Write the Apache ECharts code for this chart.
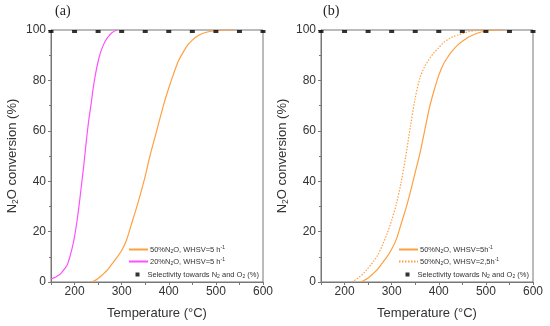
<!DOCTYPE html>
<html>
<head>
<meta charset="utf-8">
<script src="https://cdn.jsdelivr.net/npm/echarts@6/dist/echarts.min.js"></script>
<style>html,body{margin:0;padding:0;background:#fff}#c{width:550px;height:326px}</style>
</head>
<body>
<div id="c"></div>
<script>
// ---- data ----
const orangeA = [[235,0],[240,0.3],[250,1.4],[260,3],[270,4.8],[280,7.3],[290,9.8],[300,12.5],[310,16.5],[320,22.5],[330,28.5],[340,35],[350,42],[360,50],[370,57],[380,64],[390,71],[400,77],[410,82.5],[420,87.5],[430,91],[440,94],[450,96],[460,97.5],[470,98.5],[480,99.1],[490,99.5],[500,99.8],[520,100],[540,100]];
const pinkA = [[150,1.2],[160,2],[170,3.2],[180,5.5],[185,7],[190,10],[195,13.5],[200,18],[205,24],[210,31],[215,39],[220,47],[225,56],[230,64],[235,70.5],[240,77.5],[245,83],[250,87.5],[255,91],[260,93.5],[265,95.5],[270,97],[280,99],[290,100]];
const solidB = [[233,0],[240,0.5],[250,1.6],[260,3.2],[270,5],[280,7.5],[290,10],[300,13],[310,17],[320,23],[330,29],[340,36],[350,43.5],[360,51],[370,60],[380,69],[390,76],[400,82],[410,86.5],[420,89.5],[430,92],[440,94],[450,95.5],[460,96.8],[470,97.8],[480,98.6],[490,99.2],[500,99.6],[520,100],[540,100]];
const dottedB = [[215,0],[220,0.5],[230,1.8],[240,3.4],[250,5.5],[260,7.8],[270,10.5],[280,14.5],[290,19],[300,24.5],[310,31],[320,39.5],[330,50],[340,62],[350,73],[360,81],[370,85.5],[380,88.5],[390,91],[400,93],[410,95],[420,96.3],[430,97.3],[440,98],[460,99.2],[480,99.8],[500,100]];
const selT = [150,200,250,300,350,400,450,500,550,600];
const selV = [100,100,100,100,100,100,100,100,100,100];
const yTicks = [0,20,40,60,80,100];
const xLabels = [200,300,400,500,600];

const nameA1 = '50%N{s|2}O, WHSV=5 h{p|-1}';
const nameA2 = '20%N{s|2}O, WHSV=5 h{p|-1}';
const nameSelA = 'Selectivity towards N{s|2} and O{s|2} (%)';
const nameB1 = '50%N{s|2}O, WHSV=5h{p|-1}';
const nameB2 = '50%N{s|2}O, WHSV=2,5h{p|-1}';
const nameSelB = 'Selectivity towards N{s|2} and O{s|2} (%) ';

const ORANGE = '#ffa040';
const PINK = '#ff50ff';
const AXC = '#777';
const LBL = '#333';
const FONT = 'Liberation Sans, Arial, sans-serif';

const chart = echarts.init(document.getElementById('c'), null, {renderer:'canvas'});
const sel = selT.map((t,i)=>[t, selV[i]]);

function xAx(g){
  return {type:'value', gridIndex:g, min:150, max:600, interval:50,
    name:'Temperature (°C)', nameLocation:'middle', nameGap:25,
    nameTextStyle:{fontFamily:FONT, fontSize:13, color:LBL},
    axisLine:{show:true, onZero:false, lineStyle:{color:AXC, width:1}},
    axisTick:{show:true, inside:false, length:3, lineStyle:{color:AXC}},
    axisLabel:{fontFamily:FONT, fontSize:12, color:LBL, margin:4,
      formatter:v=> xLabels.indexOf(v)>=0 ? String(v) : ''},
    splitLine:{show:false}};
}
function yAx(g){
  return {type:'value', gridIndex:g, min:0, max:100, interval:20,
    name:'N{s|2}O conversion (%)', nameLocation:'middle', nameGap:31,
    nameTextStyle:{fontFamily:FONT, fontSize:13, color:LBL,
      rich:{s:{fontFamily:FONT, fontSize:8.5, color:LBL, verticalAlign:'bottom', padding:[6,0,0,0]}}},
    axisLine:{show:true, lineStyle:{color:AXC, width:1}},
    axisTick:{show:true, inside:false, length:3, lineStyle:{color:AXC}},
    minorTick:{show:true, splitNumber:2, length:2, lineStyle:{color:AXC}},
    axisLabel:{fontFamily:FONT, fontSize:12, color:LBL, margin:5,
      formatter:v=> yTicks.indexOf(v)>=0 ? String(v) : ''},
    splitLine:{show:false}, minorSplitLine:{show:false}};
}
const richLeg = {
  s:{fontFamily:FONT, fontSize:5, color:'#333', verticalAlign:'bottom', padding:[4,0,0,0]},
  p:{fontFamily:FONT, fontSize:5, color:'#333', verticalAlign:'top', padding:[0,0,4,0]}
};
const hideSym = {color:'rgba(0,0,0,0)', borderWidth:0, opacity:0};
function legendLines(left, top, names){
  return {orient:'vertical', left:left, top:top, itemWidth:19, itemHeight:4, itemGap:3,
    padding:0, data:names.map(n=>({name:n, itemStyle:hideSym})),
    textStyle:{fontFamily:FONT, fontSize:7.5, color:'#333', padding:[0,0,0,-3], rich:richLeg}};
}
function legendSel(left, top, name){
  return {orient:'vertical', left:left, top:top, itemWidth:4, itemHeight:4, itemGap:0,
    padding:0, data:[{name:name, icon:'rect'}],
    textStyle:{fontFamily:FONT, fontSize:7.5, color:'#333', padding:[0,0,0,3], rich:richLeg}};
}
function lineS(name, data, xi, color, type){
  return {type:'line', name:name, xAxisIndex:xi, yAxisIndex:xi, data:data,
    symbol:'none', showSymbol:false, smooth:0.3, clip:true,
    lineStyle:{color:color, width:1.2, type:type||'solid'}, itemStyle:{color:color}, z:3};
}
function selS(name, xi){
  return {type:'scatter', name:name, xAxisIndex:xi, yAxisIndex:xi, data:sel,
    symbol:'rect', symbolSize:[5,3], symbolOffset:[0,1.5], itemStyle:{color:'#000'}, z:4, clip:false};
}

chart.setOption({
  animation:false,
  backgroundColor:'#fff',
  title:[
    {text:'(a)', left:50, top:-1, textStyle:{fontFamily:'Liberation Serif, DejaVu Serif, serif', fontSize:14, fontWeight:'normal', color:'#222'}},
    {text:'(b)', left:318, top:-1, textStyle:{fontFamily:'Liberation Serif, DejaVu Serif, serif', fontSize:14, fontWeight:'normal', color:'#222'}}
  ],
  grid:[
    {left:51, right:287, top:30, bottom:44, show:true, borderColor:AXC, borderWidth:1, backgroundColor:'transparent', containLabel:false},
    {left:321, right:17, top:30, bottom:44, show:true, borderColor:AXC, borderWidth:1, backgroundColor:'transparent', containLabel:false}
  ],
  xAxis:[xAx(0), xAx(1)],
  yAxis:[yAx(0), yAx(1)],
  legend:[
    legendLines(128, 245, [nameA1, nameA2]),
    legendSel(135.5, 270.5, nameSelA),
    legendLines(398, 245, [nameB1, nameB2]),
    legendSel(405.5, 270.5, nameSelB)
  ],
  series:[
    lineS(nameA1, orangeA, 0, ORANGE),
    lineS(nameA2, pinkA, 0, PINK),
    selS(nameSelA, 0),
    lineS(nameB1, solidB, 1, ORANGE),
    lineS(nameB2, dottedB, 1, ORANGE, [1.5,1.5]),
    selS(nameSelB, 1)
  ]
});
</script>
</body>
</html>
